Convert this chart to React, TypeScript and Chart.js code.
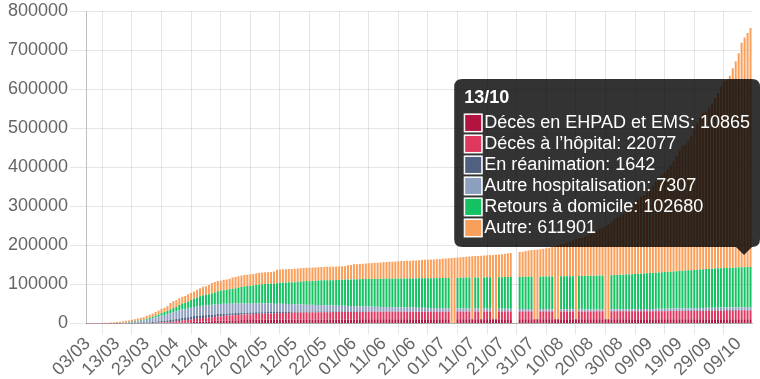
import React, { useEffect, useRef } from "react";
import { Chart, registerables, Tooltip } from "chart.js";

Chart.register(...registerables);

// Stack top (total height of each day's bar)
const totalHeight = [
  212, 285, 423, 613, 949, 1126, 1412, 1784, 2281, 2876,
  3661, 4499, 5423, 6633, 7730, 9134, 10995, 12612, 14459, 16018,
  19856, 22302, 25233, 29155, 32964, 37575, 40174, 44550, 52128, 56989,
  59105, 64338, 68605, 70478, 74390, 78167, 82048, 86334, 90276, 93790,
  95403, 98076, 103573, 106206, 108847, 109252, 111821, 112606, 114657, 117324,
  119151, 120804, 122577, 124114, 124575, 125770, 126835, 128442, 129581, 130185,
  130979, 131287, 131863, 132967, 137150, 137779, 138421, 138854, 139063, 139519,
  140227, 140734, 141356, 141919, 142291, 142411, 142903, 143427, 143845, 144163,
  144556, 144806, 144921, 145279, 145555, 145746, 146122, 146476, 149071, 149668,
  151325, 151753, 152444, 153055, 153634, 154188, 154591, 155136, 155561, 156287,
  156813, 157220, 157716, 158174, 158641, 159452, 159910, 160093, 160377, 160750,
  160900, 161348, 161932, 162200, 162936, 163116, 163500, 163800, 164260, 164801,
  165719, 166378, 166960, 167605, 168335, 168810, 169473, 170094, 170752, 171300,
  171900, 172377, 172500, 173304, 173838, 174674, 175027, 175500, 175951, 176754,
  177338, 178336, 179398, 180528, 0, 0, 183079, 183804, 185196, 186573,
  187919, 188500, 189000, 190000, 191295, 192334, 194029, 195633, 197921, 198500,
  202775, 203211, 206696, 209365, 212211, 215000, 218000, 219029, 221267, 225043,
  229814, 234400, 238002, 242899, 244854, 248158, 253587, 259698, 267077, 272530,
  277943, 281025, 286007, 293024, 300181, 309156, 317706, 324777, 328980, 335524,
  344101, 353944, 363350, 373911, 381094, 387252, 395104, 404888, 415481, 428696,
  442194, 453763, 458061, 468069, 481141, 497237, 513034, 527446, 538569, 542639,
  550690, 563535, 577505, 589653, 606625, 619190, 624274, 634155, 653509, 671638,
  691977, 718873, 732434, 743479, 756472,
];

const decesEhpad = [
  0, 0, 0, 0, 0, 0, 0, 0, 0, 0,
  0, 0, 0, 0, 0, 0, 0, 0, 0, 0,
  0, 0, 0, 0, 0, 0, 0, 0, 0, 0,
  884, 1416, 2028, 2189, 2417, 3237, 3924, 4166, 4599, 4889,
  5019, 5140, 5600, 5900, 6524, 6860, 7072, 7290, 7532, 7900,
  8105, 8300, 8490, 8660, 8750, 8900, 9030, 9150, 9250, 9300,
  9350, 9380, 9450, 9550, 9650, 9720, 9780, 9820, 9840, 9870,
  9950, 10000, 10050, 10080, 10100, 10120, 10150, 10180, 10200, 10210,
  10220, 10230, 10230, 10260, 10280, 10300, 10310, 10320, 10330, 10340,
  10350, 10360, 10370, 10380, 10390, 10395, 10400, 10405, 10410, 10415,
  10420, 10425, 10430, 10435, 10440, 10445, 10450, 10452, 10455, 10458,
  10460, 10462, 10465, 10468, 10470, 10472, 10475, 10478, 10480, 10482,
  10485, 10487, 10489, 0, 0, 10495, 10497, 10499, 10500, 10502,
  10504, 10506, 10508, 10510, 10512, 10514, 10516, 10518, 10520, 10522,
  10524, 10526, 10528, 10530, 0, 0, 10536, 10538, 10540, 10542,
  10544, 10546, 10548, 10550, 10552, 10554, 10556, 10558, 10560, 10562,
  10564, 10566, 10568, 10570, 10572, 10574, 10576, 10578, 10580, 10582,
  10584, 10586, 10588, 10590, 10592, 10594, 10596, 10598, 10600, 10602,
  10605, 10608, 10611, 10614, 10617, 10620, 10623, 10626, 10629, 10632,
  10636, 10640, 10644, 10648, 10652, 10656, 10660, 10665, 10670, 10675,
  10680, 10686, 10692, 10698, 10704, 10710, 10717, 10724, 10731, 10738,
  10745, 10753, 10761, 10769, 10777, 10785, 10793, 10801, 10810, 10819,
  10828, 10837, 10846, 10855, 10865,
];

const decesHopital = [
  4, 4, 6, 9, 16, 19, 25, 33, 48, 61,
  79, 91, 127, 148, 175, 264, 372, 450, 562, 674,
  860, 1100, 1331, 1696, 1995, 2314, 2606, 3024, 3523, 4032,
  4503, 5091, 5532, 5889, 6494, 7091, 7632, 8044, 8598, 8943,
  9253, 9588, 10129, 10643, 11060, 11478, 11842, 12069, 12513, 12900,
  13236, 13547, 13852, 14050, 14202, 14354, 14810, 15053, 15341, 15558,
  15732, 15826, 16071, 16308, 16555, 16731, 16867, 16941, 17003, 17266,
  17446, 17611, 17764, 17845, 17900, 17975, 18133, 18285, 18398, 18472,
  18548, 18580, 18610, 18703, 18790, 18855, 18920, 18970, 19010, 19040,
  19070, 19100, 19130, 19160, 19190, 19220, 19240, 19260, 19290, 19320,
  19340, 19360, 19380, 19390, 19400, 19430, 19450, 19470, 19490, 19500,
  19510, 19520, 19540, 19560, 19580, 19600, 19610, 19620, 19640, 19660,
  19680, 19700, 19710, 0, 0, 19750, 19770, 19790, 19800, 19810,
  0, 19840, 19850, 0, 19870, 19880, 19890, 0, 0, 19920,
  19930, 19940, 19950, 19960, 0, 0, 19990, 20000, 20010, 20020,
  20030, 0, 0, 20060, 20070, 20080, 20090, 20100, 0, 0,
  20130, 20140, 20150, 20160, 20170, 0, 20190, 20200, 20220, 20230,
  20240, 20250, 20260, 20270, 20290, 0, 0, 20330, 20350, 20370,
  20380, 20400, 20420, 20440, 20460, 20490, 20510, 20530, 20560, 20590,
  20620, 20650, 20680, 20710, 20740, 20780, 20820, 20860, 20900, 20940,
  20980, 21020, 21060, 21100, 21150, 21200, 21250, 21300, 21350, 21410,
  21470, 21530, 21590, 21640, 21690, 21740, 21790, 21840, 21890, 21940,
  21980, 22010, 22040, 22060, 22077,
];

const reanimation = [
  12, 15, 23, 39, 45, 66, 86, 105, 129, 154,
  211, 300, 400, 487, 699, 771, 931, 1122, 1297, 1525,
  1746, 2082, 2516, 2827, 3375, 3787, 4273, 4632, 5107, 5565,
  6017, 6399, 6662, 6838, 6978, 7072, 7148, 7066, 7004, 6883,
  6845, 6821, 6730, 6599, 6248, 6027, 5833, 5744, 5683, 5433,
  5218, 5053, 4870, 4682, 4608, 4526, 4387, 4207, 4019, 3878,
  3827, 3762, 3696, 3430, 3147, 2961, 2868, 2812, 2776, 2712,
  2542, 2299, 2203, 2132, 2087, 1998, 1894, 1794, 1745, 1701,
  1655, 1609, 1555, 1501, 1429, 1361, 1319, 1288, 1232, 1202,
  1194, 1137, 1094, 1053, 1002, 988, 974, 954, 911, 879,
  869, 836, 822, 818, 775, 752, 737, 718, 709, 708,
  700, 683, 647, 622, 611, 609, 604, 586, 575, 559,
  547, 541, 534, 0, 0, 522, 519, 512, 489, 484,
  0, 479, 477, 0, 457, 449, 433, 0, 0, 438,
  424, 409, 393, 390, 0, 0, 395, 389, 384, 385,
  388, 0, 0, 398, 387, 374, 377, 376, 0, 0,
  384, 390, 392, 390, 395, 0, 396, 403, 408, 424,
  410, 414, 414, 429, 447, 0, 0, 484, 487, 497,
  508, 517, 527, 551, 566, 593, 615, 625, 667, 693,
  715, 752, 777, 795, 809, 855, 902, 932, 953, 974,
  979, 1038, 1048, 1110, 1099, 1167, 1198, 1206, 1248, 1321,
  1338, 1363, 1383, 1405, 1416, 1437, 1467, 1427, 1480, 1488,
  1498, 1511, 1539, 1580, 1642,
];

const autreHospitalisation = [
  40, 50, 60, 80, 110, 150, 200, 280, 380, 500,
  650, 850, 1100, 1500, 2000, 2600, 3300, 4000, 4800, 5400,
  6900, 8100, 9000, 10800, 12000, 13800, 15000, 16000, 17500, 18700,
  19800, 20400, 21400, 21500, 22200, 23000, 23500, 23800, 24600, 24800,
  25000, 25300, 25400, 25400, 25700, 25600, 25500, 25100, 24900, 24800,
  24700, 24300, 24100, 23600, 23400, 23300, 23200, 22800, 22500, 22000,
  21900, 21800, 21600, 21200, 21000, 20900, 20600, 20400, 20000, 19700,
  19300, 19000, 18500, 18100, 17800, 17600, 17400, 17000, 16700, 16500,
  16200, 16000, 15800, 15600, 15300, 15000, 14700, 14400, 14100, 13900,
  13700, 13500, 13300, 13000, 12800, 12600, 12400, 12200, 11900, 11700,
  11500, 11300, 11100, 10950, 10800, 10600, 10400, 10200, 10050, 9900,
  9800, 9650, 9500, 9350, 9200, 9050, 8900, 8750, 8650, 8500,
  8350, 8200, 8100, 0, 0, 7900, 7800, 7700, 7600, 7500,
  0, 7400, 7350, 0, 7200, 7100, 7000, 0, 0, 6850,
  6750, 6650, 6550, 6450, 0, 0, 6300, 6200, 6100, 6000,
  5900, 0, 0, 5750, 5650, 5550, 5450, 5350, 0, 0,
  5200, 5100, 5000, 4950, 4900, 0, 4850, 4800, 4750, 4700,
  4650, 4600, 4600, 4600, 4550, 0, 0, 4600, 4600, 4600,
  4650, 4650, 4700, 4750, 4800, 4850, 4900, 4950, 5000, 5100,
  5150, 5200, 5300, 5350, 5400, 5500, 5550, 5650, 5700, 5800,
  5850, 5900, 6000, 6050, 6100, 6150, 6200, 6250, 6300, 6400,
  6450, 6500, 6550, 6600, 6650, 6700, 6750, 6800, 6850, 6950,
  7000, 7100, 7200, 7250, 7307,
];

const retoursDomicile = [
  12, 12, 12, 12, 12, 12, 12, 12, 12, 12,
  12, 12, 12, 300, 602, 1000, 1300, 1587, 1811, 2200,
  2567, 3281, 3900, 4948, 5700, 6624, 7132, 7927, 9444, 10935,
  11053, 14008, 15438, 16183, 17250, 19337, 21254, 23206, 24932, 26391,
  27186, 27718, 28805, 30955, 32812, 34420, 35006, 35983, 36578, 37409,
  38637, 40657, 42088, 43493, 44594, 44903, 45513, 46886, 48228, 49476,
  50212, 50562, 50784, 51371, 52736, 53972, 54429, 55027, 55892, 56038,
  56217, 57785, 58673, 59605, 60448, 60563, 61066, 61728, 62563, 63354,
  63858, 64209, 64547, 64617, 65199, 65879, 66584, 67191, 67803, 68166,
  68268, 68812, 69488, 70062, 70504, 70837, 71069, 71166, 71546, 72040,
  72422, 72767, 72992, 73107, 73195, 73501, 73926, 74226, 74515, 74677,
  74778, 75024, 75323, 75654, 75960, 76197, 76273, 76317, 76612, 76903,
  77231, 77446, 77673, 0, 0, 78057, 78346, 78641, 78956, 79152,
  0, 79400, 79519, 0, 79794, 80029, 80191, 0, 0, 80616,
  80845, 81085, 81261, 81454, 0, 0, 81845, 82058, 82321, 82474,
  82657, 0, 0, 83053, 83288, 83466, 83641, 83820, 0, 0,
  84283, 84479, 84657, 84837, 85006, 0, 85200, 85380, 85624, 85865,
  86079, 86307, 86513, 86700, 86832, 0, 0, 87432, 87700, 87975,
  88200, 88438, 88800, 89148, 89500, 89886, 90200, 90492, 90800, 91264,
  91700, 92113, 92500, 92850, 93200, 93600, 94037, 94500, 94942, 95350,
  95713, 96100, 96500, 96900, 97340, 97800, 98186, 98500, 98800, 99166,
  99600, 100063, 100500, 100800, 101044, 101200, 101400, 101600, 101800, 101970,
  102100, 102250, 102400, 102550, 102680,
];

const seriesLabels = [
  "Décès en EHPAD et EMS",
  "Décès à l’hôpital",
  "En réanimation",
  "Autre hospitalisation",
  "Retours à domicile",
  "Autre",
];
const seriesColors = ["#b3143f", "#e0375f", "#4f6081", "#8d9fbf", "#14c262", "#fa9f5a"];

const FONT = "'Liberation Sans', Arial, Helvetica, sans-serif";

function pad2(n: number) {
  return n < 10 ? "0" + n : String(n);
}
function dayLabels(count: number): string[] {
  const out: string[] = [];
  for (let i = 0; i < count; i++) {
    const d = new Date(Date.UTC(2020, 2, 3 + i));
    out.push(pad2(d.getUTCDate()) + "/" + pad2(d.getUTCMonth() + 1));
  }
  return out;
}

(Tooltip.positioners as any).barTops = function (items: any[]) {
  if (!items.length) return false;
  let x = 0;
  let y = 0;
  items.forEach((it) => {
    x += it.element.x;
    y += it.element.y;
  });
  return { x: x / items.length, y: y / items.length };
};

export default function App() {
  const ref = useRef<HTMLCanvasElement | null>(null);

  useEffect(() => {
    document.body.style.margin = "0";
    const canvas = ref.current;
    if (!canvas) return;
    const labels = dayLabels(totalHeight.length);
    const lower = [decesEhpad, decesHopital, reanimation, autreHospitalisation, retoursDomicile];
    const autre = totalHeight.map((t, i) =>
      t === 0 ? 0 : t - lower.reduce((s, arr) => s + arr[i], 0)
    );
    const all = [...lower, autre];

    const chart = new Chart(canvas, {
      type: "bar",
      data: {
        labels,
        datasets: all.map((data, i) => ({
          label: seriesLabels[i],
          data,
          backgroundColor: seriesColors[i],
          hoverBackgroundColor: seriesColors[i],
          borderWidth: 0,
          barPercentage: 0.75,
          categoryPercentage: 0.9,
        })),
      },
      options: {
        animation: false,
        responsive: false,
        layout: { padding: { left: 6, right: 8, top: 0, bottom: 0 } },
        scales: {
          x: {
            stacked: true,
            grid: {
              offset: true,
              tickLength: 11,
              color: "rgba(0,0,0,0.1)",
            },
            border: { color: "rgba(0,0,0,0.25)" },
            ticks: {
              autoSkip: false,
              minRotation: 45,
              maxRotation: 45,
              color: "#666",
              padding: 0,
              font: { size: 18, family: FONT, lineHeight: 1 },
              callback: function (this: any, val: any, idx: number) {
                return idx % 10 === 0 ? this.getLabelForValue(val) : null;
              },
            },
          },
          y: {
            stacked: true,
            min: 0,
            max: 800000,
            grid: { color: "rgba(0,0,0,0.1)", tickLength: 16 },
            border: { color: "rgba(0,0,0,0.25)" },
            ticks: {
              stepSize: 100000,
              color: "#666",
              padding: 2,
              font: { size: 18, family: FONT, lineHeight: 1 },
              callback: (v: any) => String(v),
            },
          },
        },
        plugins: {
          legend: { display: false },
          tooltip: {
            enabled: true,
            mode: "index",
            intersect: false,
            position: "barTops" as any,
            xAlign: "right",
            yAlign: "bottom",
            backgroundColor: "rgba(0,0,0,0.8)",
            titleColor: "#fff",
            bodyColor: "#fff",
            titleFont: { size: 18, weight: "bold", family: FONT, lineHeight: 1 },
            bodyFont: { size: 18, family: FONT, lineHeight: 1 },
            padding: 10,
            bodySpacing: 3,
            titleMarginBottom: 7,
            cornerRadius: 8,
            caretSize: 8,
            caretPadding: 2,
            displayColors: true,
            callbacks: {
              label: (ctx: any) => `${ctx.dataset.label}: ${ctx.raw}`,
              labelColor: (ctx: any) => ({
                borderColor: "#ffffff",
                backgroundColor: seriesColors[ctx.datasetIndex],
                borderWidth: 1,
              }),
            },
          },
        },
      },
    });

    const idx = totalHeight.length - 1;
    const active = all.map((_, di) => ({ datasetIndex: di, index: idx }));
    chart.tooltip?.setActiveElements(active, { x: 0, y: 0 });
    chart.update();

    return () => chart.destroy();
  }, []);

  return (
    <div style={{ width: 760, height: 379 }}>
      <canvas ref={ref} width={760} height={379} style={{ display: "block" }} />
    </div>
  );
}
